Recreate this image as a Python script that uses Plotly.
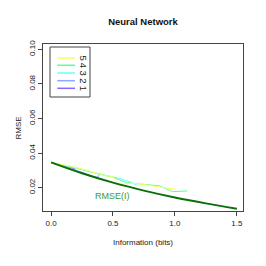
import plotly.graph_objects as go

# RMSE(I) reference curve
rmse_I_x = [0.0, 0.25, 0.5, 0.75, 1.0, 1.25, 1.5]
rmse_I_y = [0.0346, 0.0283, 0.0229, 0.0183, 0.0143, 0.0109, 0.0078]

# network series (information, rmse)
s1_x = [0.0, 0.12, 0.20]
s1_y = [0.0346, 0.0325, 0.0306]
s2_x = [0.0, 0.15, 0.26, 0.34, 0.38, 0.39]
s2_y = [0.0346, 0.0312, 0.0287, 0.0264, 0.0260, 0.0279]
s3_x = [0.0, 0.15, 0.28, 0.42, 0.55, 0.63, 0.70]
s3_y = [0.0346, 0.0321, 0.0298, 0.0279, 0.0254, 0.0235, 0.0212]
s4_x = [0.0, 0.20, 0.36, 0.50, 0.61, 0.77, 0.88, 0.98, 1.10]
s4_y = [0.0346, 0.0316, 0.0283, 0.0260, 0.0229, 0.0219, 0.0210, 0.0177, 0.0181]
s5_x = [0.0, 0.15, 0.28, 0.42, 0.50, 0.54, 0.58, 0.69, 0.82, 0.90, 1.01]
s5_y = [0.0346, 0.0325, 0.0302, 0.0273, 0.0263, 0.0225, 0.0221, 0.0225, 0.0210, 0.0200, 0.0190]

series_labels = ["5", "4", "3", "2", "1"]
series_colors = ["#ffff55", "#55ff99", "#66ffff", "#88aaff", "#8866ff"]

x_ticks = [0.0, 0.5, 1.0, 1.5]
x_ticklabels = ["0.0", "0.5", "1.0", "1.5"]
y_ticks = [0.02, 0.04, 0.06, 0.08, 0.10]
y_ticklabels = ["0.02", "0.04", "0.06", "0.08", "0.10"]

FONT = "Liberation Sans, Arial, sans-serif"
W, H = 266, 266
L, R, T, B = 43, 23, 44, 55

def px_x(p):
    return (p - L) / (W - L - R)

def px_y(p):
    return (H - B - p) / (H - T - B)

fig = go.Figure()
data_series = [(s5_x, s5_y), (s4_x, s4_y), (s3_x, s3_y), (s2_x, s2_y), (s1_x, s1_y)]
for (xs, ys), col in zip(data_series[::-1], series_colors[::-1]):
    fig.add_trace(go.Scatter(x=xs, y=ys, mode="lines", line=dict(color=col, width=1), showlegend=False))

fig.add_trace(go.Scatter(x=rmse_I_x, y=rmse_I_y, mode="lines", line=dict(color="#0a6e0a", width=2, shape="spline"), showlegend=False))

fig.add_annotation(x=0.5, y=0.0152, text="RMSE(I)", showarrow=False,
                   font=dict(family=FONT, size=9, color="#3a9a3a"))

# legend box (custom)
shapes = [dict(type="rect", xref="paper", yref="paper", x0=px_x(50), x1=px_x(90), y0=px_y(97), y1=px_y(47),
               line=dict(color="#444444", width=1))]
ly = [58, 65.3, 73, 80.7, 88.3]
for lab, col, yy in zip(series_labels, series_colors, ly):
    shapes.append(dict(type="line", xref="paper", yref="paper", x0=px_x(57.3), x1=px_x(75), y0=px_y(yy), y1=px_y(yy),
                       line=dict(color=col, width=1.5)))
    fig.add_annotation(xref="paper", yref="paper", x=px_x(83.5), y=px_y(yy), text=lab, showarrow=False,
                       xanchor="center", yanchor="middle",
                       textangle=90, font=dict(family=FONT, size=9.5, color="#222222"))

# axis titles
fig.add_annotation(xref="paper", yref="paper", x=px_x(143), y=px_y(249), text="Information (bits)", showarrow=False,
                   font=dict(family=FONT, size=8, color="#222222"))
fig.add_annotation(xref="paper", yref="paper", x=px_x(11), y=px_y(128), text="RMSE", showarrow=False,
                   textangle=-90, font=dict(family=FONT, size=8, color="#222222"))

fig.update_layout(
    width=W, height=H,
    margin=dict(l=L, r=R, t=T, b=B),
    paper_bgcolor="white", plot_bgcolor="white",
    shapes=shapes,
    title=dict(text="<b>Neural Network</b>", x=143 / W, xanchor="center", y=1 - 22 / H, yanchor="middle",
               font=dict(family=FONT, size=9.5, color="#111111")),
    xaxis=dict(range=[-0.065, 1.55], tickvals=x_ticks, ticktext=x_ticklabels, ticks="outside", ticklen=4,
               tickcolor="#444444", showline=True, mirror=True, linecolor="#444444", showgrid=False, zeroline=False,
               automargin=False,
               tickfont=dict(family=FONT, size=8, color="#222222")),
    yaxis=dict(range=[0.0065, 0.1031], tickvals=y_ticks, ticktext=y_ticklabels, ticks="outside", ticklen=4,
               tickcolor="#444444", showline=True, mirror=True, linecolor="#444444", showgrid=False, zeroline=False,
               tickangle=-90, automargin=False,
               tickfont=dict(family=FONT, size=8, color="#222222")),
)

fig.write_html("out.html", config={"displayModeBar": False},
               post_script="document.body.style.margin='0';")
